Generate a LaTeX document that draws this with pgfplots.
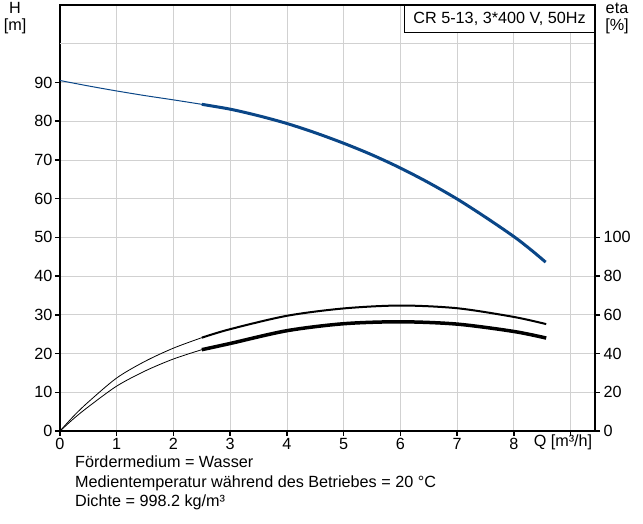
\documentclass[border=0pt]{standalone}
\usepackage{pgfplots}
\pgfplotsset{compat=1.18}
\usepackage{fontspec}
\setmainfont{Liberation Sans}
\definecolor{hblue}{RGB}{10,70,135}
\begin{document}
\begin{tikzpicture}[font=\fontsize{16.2bp}{17bp}\selectfont]
\path (0,0) rectangle (643bp,524bp);
\begin{axis}[
  at={(60bp,93bp)}, anchor=south west,
  width=535bp, height=426bp, scale only axis,
  xmin=0, xmax=9.43, ymin=0, ymax=110,
  xtick={0,...,9}, xticklabels={0,1,2,3,4,5,6,7,8,{}},
  ytick={0,10,...,90},
  extra y ticks={100}, extra y tick labels={},
  extra y tick style={major tick length=0pt, grid=major},
  tick align=outside, tick pos=left,
  major tick length=5bp,
  tick style={line width=1.5bp, black},
  axis line style={line width=1.5bp},
  grid=major, grid style={black!18, line width=0.8bp},
  /pgf/number format/assume math mode=true,
  tick label style={font=\fontsize{16.2bp}{17bp}\selectfont},
  yticklabel style={xshift=1bp},
  xticklabel style={yshift=1bp},
]
\addplot[hblue, line width=1bp, smooth] coordinates {(0,90.5) (0.5,89.1) (1,87.8) (1.5,86.6) (2,85.5) (2.5,84.35)};
\addplot[hblue, line width=3bp, smooth] coordinates {(2.5,84.35) (3,83.1) (3.5,81.4) (4,79.4) (4.5,77.0) (5,74.3) (5.5,71.3) (6,67.9) (6.5,64.1) (7,59.9) (7.5,55.2) (8,50.2) (8.3,46.8) (8.56,43.6)};
\node[draw, fill=white, line width=0.8bp, anchor=north east, minimum width=190bp, minimum height=27bp, inner sep=2bp] at (rel axis cs:1,1) {CR 5-13, 3*400 V, 50Hz};
\end{axis}
\begin{axis}[
  at={(60bp,93bp)}, anchor=south west,
  width=535bp, height=426bp, scale only axis,
  xmin=0, xmax=9.43, ymin=0, ymax=220,
  axis x line=none, axis y line*=right,
  ytick={0,20,...,100},
  tick align=outside,
  major tick length=5bp,
  tick style={line width=1.5bp, black},
  axis line style={line width=1.5bp},
  /pgf/number format/assume math mode=true,
  tick label style={font=\fontsize{16.2bp}{17bp}\selectfont},
]
\addplot[black, line width=0.8bp, smooth] coordinates {(0,0) (0.25,8) (0.5,15) (1,27.4) (1.5,36) (2,42.8) (2.5,48.2)};
\addplot[black, line width=2bp, smooth] coordinates {(2.5,48.2) (3,52.6) (4,59.5) (5,63.3) (6,64.8) (7,63.4) (8,58.9) (8.57,55.2)};
\addplot[black, line width=0.8bp, smooth] coordinates {(0,0) (0.25,6.6) (0.5,12.5) (1,23.2) (1.5,31) (2,37.2) (2.5,42)};
\addplot[black, line width=3.5bp, smooth] coordinates {(2.5,42) (3,45.2) (4,51.8) (5,55.4) (6,56.4) (7,55.2) (8,51.4) (8.57,48)};
\end{axis}
\node[align=center, inner sep=0pt] at (15bp,506bp) {H\\{[m]}};
\node[align=center, inner sep=0pt] at (617bp,506bp) {eta\\{[\%]}};
\node[inner sep=0pt] at (563bp,82bp) {Q [m³/h]};
\node[anchor=base west, inner sep=0pt] at (75bp,56bp) {Fördermedium = Wasser};
\node[anchor=base west, inner sep=0pt] at (75bp,37bp) {Medientemperatur während des Betriebes = 20 °C};
\node[anchor=base west, inner sep=0pt] at (75bp,18bp) {Dichte = 998.2 kg/m³};
\end{tikzpicture}
\end{document}
